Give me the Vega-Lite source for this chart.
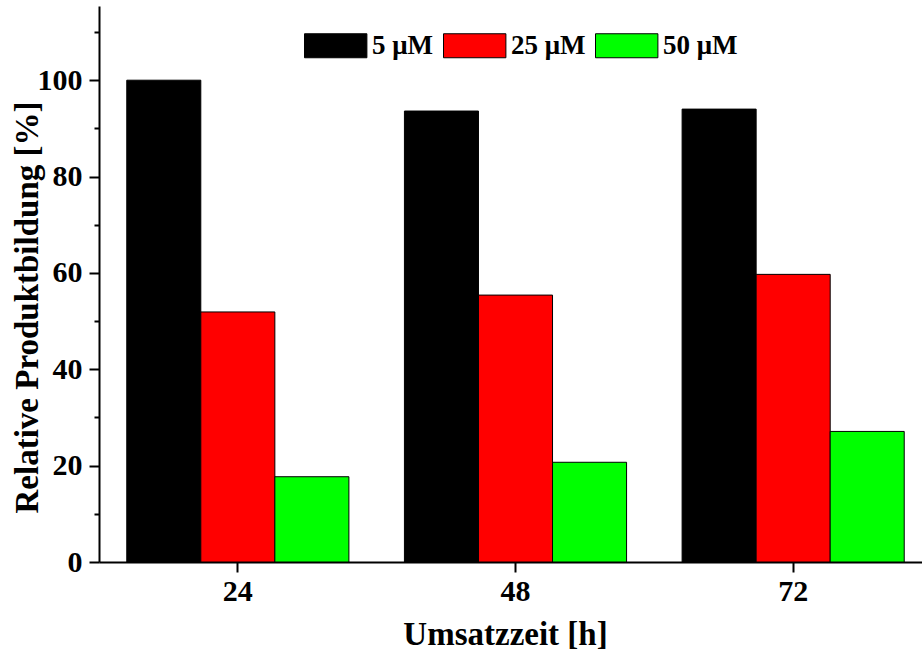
{
  "$schema": "https://vega.github.io/schema/vega-lite/v6.json",
  "autosize": "none",
  "width": 823,
  "height": 556,
  "padding": {"left": 99, "top": 6, "right": 0, "bottom": 88},
  "background": "white",
  "config": {
    "view": {"stroke": null},
    "font": "Liberation Serif",
    "axis": {"labelFont": "Liberation Serif", "titleFont": "Liberation Serif", "labelFontWeight": "bold", "titleFontWeight": "bold", "labelColor": "black", "titleColor": "black", "domainColor": "black", "tickColor": "black", "domainWidth": 2, "tickWidth": 2, "grid": false}
  },
  "data": {
    "values": [
      {"time": "24", "conc": "5 μM", "value": 100.0},
      {"time": "24", "conc": "25 μM", "value": 51.9},
      {"time": "24", "conc": "50 μM", "value": 17.7},
      {"time": "48", "conc": "5 μM", "value": 93.6},
      {"time": "48", "conc": "25 μM", "value": 55.4},
      {"time": "48", "conc": "50 μM", "value": 20.7},
      {"time": "72", "conc": "5 μM", "value": 94.0},
      {"time": "72", "conc": "25 μM", "value": 59.7},
      {"time": "72", "conc": "50 μM", "value": 27.1}
    ]
  },
  "mark": {"type": "bar", "stroke": "black", "strokeWidth": 1},
  "encoding": {
    "x": {
      "field": "time", "type": "nominal", "sort": ["24", "48", "72"],
      "scale": {"range": [0, 833], "paddingInner": 0.2, "paddingOuter": 0.1},
      "axis": {"title": "Umsatzzeit [h]", "labelAngle": 0, "labelFontSize": 30, "titleFontSize": 33, "tickSize": 10, "labelPadding": 4, "titleX": 406, "titleY": 82, "titleBaseline": "alphabetic"}
    },
    "xOffset": {"field": "conc", "type": "nominal", "sort": ["5 μM", "25 μM", "50 μM"], "scale": {"paddingInner": 0, "paddingOuter": 0}},
    "y": {
      "field": "value", "type": "quantitative",
      "scale": {"domain": [0, 115.4], "nice": false, "zero": true},
      "axis": {
        "title": "Relative Produktbildung [%]",
        "values": [0, 10, 20, 30, 40, 50, 60, 70, 80, 90, 100, 110],
        "labelExpr": "datum.value % 20 === 0 ? datum.label : ''",
        "tickSize": {"condition": {"test": "datum.value % 20 === 0", "value": 10}, "value": 5},
        "labelFontSize": 30, "titleFontSize": 33, "labelPadding": 7,
        "titleX": -72, "titleY": 301, "titleBaseline": "middle"
      }
    },
    "color": {
      "field": "conc", "type": "nominal", "sort": ["5 μM", "25 μM", "50 μM"],
      "scale": {"domain": ["5 μM", "25 μM", "50 μM"], "range": ["#000000", "#ff0000", "#00ff00"]},
      "legend": {
        "title": null, "orient": "none", "direction": "horizontal", "legendX": 204, "legendY": 26,
        "symbolType": "M-1,-1H4.2V1H-1Z", "symbolSize": 576, "symbolStrokeColor": "black", "symbolStrokeWidth": 1, "symbolOpacity": 1,
        "labelFont": "Liberation Serif", "labelFontWeight": "bold", "labelFontSize": 27, "labelColor": "black",
        "labelOffset": 42, "columnPadding": 7, "padding": 0
      }
    }
  }
}
